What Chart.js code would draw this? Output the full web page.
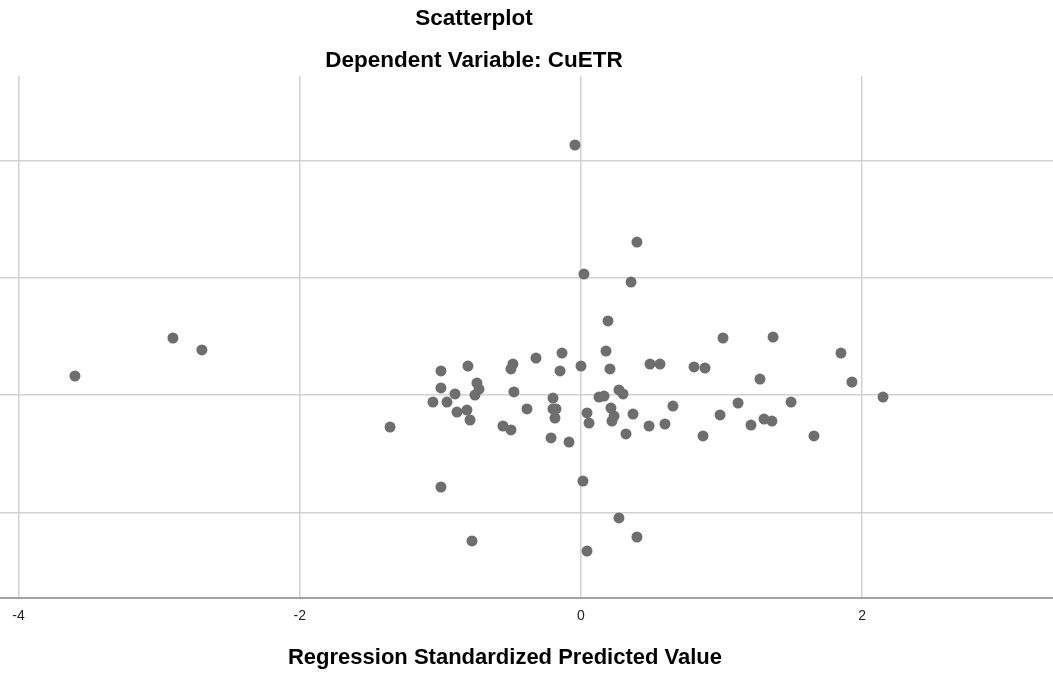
<!doctype html>
<html>
<head>
<meta charset="utf-8" />
<title>Scatterplot - CuETR</title>
<script src="https://cdn.jsdelivr.net/npm/chart.js@4.4.1/dist/chart.umd.min.js"></script>
<style>
html, body { margin:0; padding:0; background:#fff; }
#wrap { position:relative; width:1053px; height:673px; }
</style>
</head>
<body>
<div id="wrap">
<canvas id="myChart" width="1053" height="673"></canvas>
</div>

<script type="text/javascript">
// texts
var chartTitle = 'Scatterplot';
var chartSubtitle = 'Dependent Variable: CuETR';
var xTitle = 'Regression Standardized Predicted Value';

// axis range + ticks (y labels are cut off in the picture)
var xMin = -4.132, xMax = 3.357;
var yMin = -1.730, yMax = 2.719;
var xTicks = [-4, -2, 0, 2];
var yTicks = [-1, 0, 1, 2];

// standardized predicted value / residual
var predX = [-3.599, -2.902, -2.696, -1.358, -0.996, -0.996, -1.053, -0.953, -0.896, -0.882,
             -0.811, -0.789, -0.804, -0.740, -0.725, -0.754, -0.996, -0.775, -0.555, -0.498,
             -0.484, -0.498, -0.477, -0.384, -0.320, -0.213, -0.199, -0.199, -0.178, -0.185,
             -0.149, -0.135, -0.085, 0.000, -0.043, 0.021, 0.014, 0.043, 0.043, 0.057,
             0.128, 0.164, 0.178, 0.192, 0.206, 0.213, 0.235, 0.220, 0.270, 0.299,
             0.320, 0.370, 0.356, 0.398, 0.398, 0.270, 0.491, 0.562, 0.484, 0.597,
             0.654, 0.804, 0.882, 0.868, 0.989, 1.010, 1.117, 1.209, 1.273, 1.302,
             1.358, 1.366, 1.494, 1.657, 1.849, 1.927, 2.148];
var residY = [0.162, 0.486, 0.384, -0.273, 0.205, 0.060, -0.060, -0.060, 0.009, -0.145,
              -0.128, -0.213, 0.247, 0.102, 0.051, 0.000, -0.784, -1.244, -0.264, -0.298,
              0.264, 0.222, 0.026, -0.119, 0.315, -0.366, -0.026, -0.119, -0.119, -0.196,
              0.205, 0.358, -0.401, 0.247, 2.131, 1.031, -0.733, -1.330, -0.153, -0.239,
              -0.017, -0.009, 0.375, 0.631, 0.222, -0.111, -0.179, -0.222, 0.043, 0.009,
              -0.332, -0.162, 0.963, 1.304, -1.210, -1.048, 0.264, 0.264, -0.264, -0.247,
              -0.094, 0.239, 0.230, -0.349, -0.170, 0.486, -0.068, -0.256, 0.136, -0.205,
              -0.222, 0.494, -0.060, -0.349, 0.358, 0.111, -0.017];

var pts = predX.map(function(x, i) { return { x: x, y: residY[i] }; });

// titles are drawn by hand, they are not centred on the canvas in the original
var textPlugin = {
  id: 'texts',
  afterDraw: function(chart) {
    var c = chart.ctx;
    c.save();
    c.fillStyle = '#000';
    c.textAlign = 'center';
    c.textBaseline = 'middle';
    c.font = 'bold 22.5px "Liberation Sans", Arial, sans-serif';
    c.fillText(chartTitle, 474, 19);
    c.fillText(chartSubtitle, 474, 61);
    c.font = 'bold 22px "Liberation Sans", Arial, sans-serif';
    c.fillText(xTitle, 505, 658);
    c.restore();
  }
};

var ctx = document.getElementById('myChart').getContext('2d');
var chart = new Chart(ctx, {
  type: 'scatter',
  data: {
    datasets: [{
      label: 'CuETR',
      data: pts,
      backgroundColor: '#6e6e6e',
      borderWidth: 0,
      pointRadius: 5.5,
      pointHoverRadius: 5.5
    }]
  },
  options: {
    responsive: false,
    animation: false,
    layout: { autoPadding: false, padding: { top: 76, left: 0, right: 0, bottom: 0 } },
    plugins: {
      legend: { display: false },
      tooltip: { enabled: false }
    },
    scales: {
      x: {
        type: 'linear',
        min: xMin,
        max: xMax,
        afterBuildTicks: function(s) { s.ticks = xTicks.map(function(v) { return { value: v }; }); },
        afterFit: function(s) { s.height = 75; },
        grid: { color: '#d2d2d2', lineWidth: 1.5, drawTicks: false },
        border: { display: true, color: '#a3a3a3', width: 2 },
        ticks: {
          color: '#222',
          padding: 10,
          font: { family: '"Liberation Sans", Arial, sans-serif', size: 14 },
          maxRotation: 0
        }
      },
      y: {
        type: 'linear',
        min: yMin,
        max: yMax,
        afterBuildTicks: function(s) { s.ticks = yTicks.map(function(v) { return { value: v }; }); },
        afterFit: function(s) { s.width = 0; },
        grid: { color: '#d2d2d2', lineWidth: 1.5, drawTicks: false },
        border: { display: false },
        ticks: { display: false }
      }
    }
  },
  plugins: [textPlugin]
});
</script>
</body>
</html>
